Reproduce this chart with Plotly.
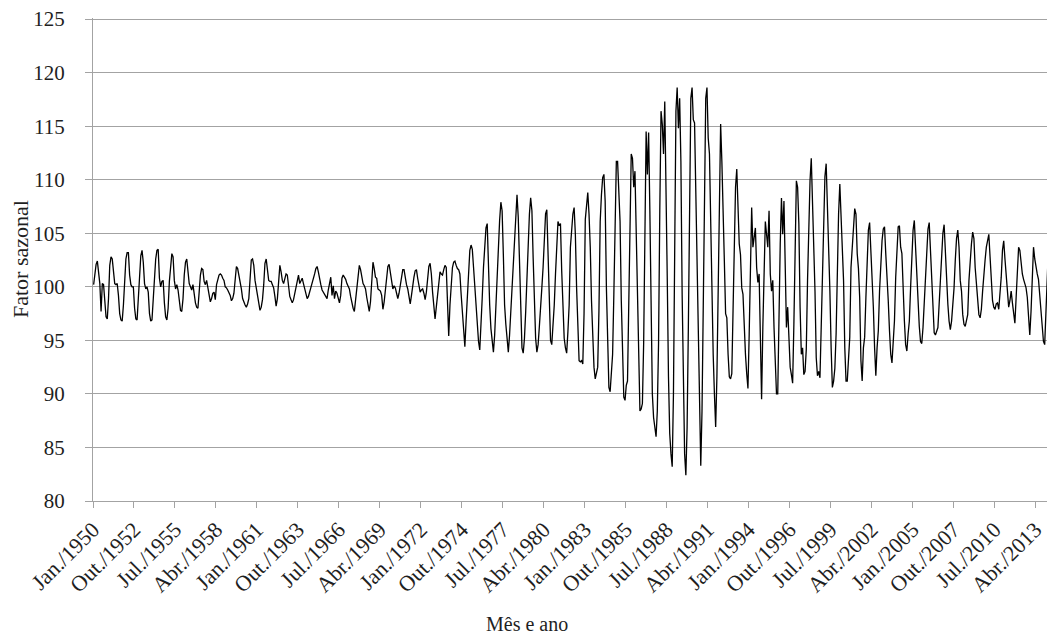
import plotly.graph_objects as go

# Fator sazonal mensal, jan/1950 a jun/2014
fator_1950s = [
    100.2, 101.5, 102.1, 102.4, 101.1, 100.3, 97.7, 100.3, 100.2, 98.3, 97.2, 97.0,
    98.9, 102.0, 102.8, 102.6, 101.4, 100.3, 100.2, 100.3, 99.2, 97.5, 96.9, 96.8,
    98.3, 100.5, 102.6, 103.2, 103.2, 101.1, 100.2, 100.0, 100.0, 98.0, 97.0, 96.9,
    98.9, 101.4, 102.9, 103.4, 102.3, 100.3, 99.8, 100.0, 99.5, 97.5, 96.8, 96.9,
    98.9, 101.1, 102.6, 103.4, 103.5, 100.8, 100.0, 100.5, 100.6, 98.5, 97.2, 96.9,
    98.0, 100.5, 102.3, 103.1, 102.8, 100.6, 99.8, 100.2, 99.7, 98.9, 97.8, 97.7,
    98.9, 101.1, 102.3, 102.6, 101.7, 100.3, 100.0, 99.7, 100.2, 99.2, 98.5, 98.1,
    98.0, 99.5, 101.1, 101.7, 101.6, 100.5, 100.2, 100.6, 99.8, 99.1, 98.6, 98.9,
    99.4, 99.5, 98.8, 100.2, 100.8, 101.1, 101.2, 101.1, 100.8, 100.6, 100.0, 99.9,
    99.7, 99.5, 99.2, 98.7, 98.9, 99.4, 100.8, 101.9, 101.7, 101.1, 100.5, 99.8,
]
fator_1960s = [
    98.9, 98.5, 98.3, 98.1, 98.4, 98.9, 100.8, 102.5, 102.6, 102.0, 100.6, 99.8,
    99.4, 98.5, 97.8, 98.1, 98.8, 100.2, 102.2, 102.6, 101.4, 100.6, 100.5, 100.5,
    100.2, 99.9, 99.1, 98.2, 98.9, 100.8, 102.0, 101.4, 100.6, 100.3, 100.8, 101.2,
    101.1, 100.0, 99.1, 98.8, 98.5, 98.8, 99.4, 100.2, 100.8, 101.1, 100.3, 100.5,
    100.8, 100.3, 99.9, 99.4, 98.9, 99.1, 99.5, 99.8, 100.3, 100.8, 101.2, 101.7,
    101.9, 101.4, 100.6, 100.2, 99.7, 99.5, 99.4, 99.2, 98.9, 99.7, 100.2, 100.9,
    99.2, 100.1, 98.9, 99.6, 99.4, 98.9, 98.5, 99.2, 100.8, 101.1, 100.9, 100.7,
    100.3, 100.1, 99.8, 99.1, 98.5, 98.0, 97.7, 98.8, 99.7, 101.4, 102.0, 101.6,
    100.9, 100.3, 100.1, 99.8, 99.0, 98.1, 97.7, 98.6, 100.8, 102.3, 101.7, 100.9,
    100.8, 99.8, 99.7, 99.6, 99.2, 97.9, 98.6, 99.8, 101.1, 101.9, 102.1, 101.4,
]
fator_1970s = [
    100.5, 99.8, 100.1, 99.9, 99.4, 98.9, 99.4, 100.2, 101.1, 101.6, 101.6, 100.8,
    100.2, 99.8, 98.9, 98.4, 99.2, 100.2, 100.9, 101.5, 101.6, 100.8, 100.2, 99.5,
    99.7, 99.8, 99.4, 98.8, 99.5, 100.8, 101.9, 102.2, 101.2, 99.5, 98.0, 97.0,
    98.1, 99.2, 100.8, 101.4, 101.2, 101.1, 101.6, 102.0, 101.8, 98.6, 95.4, 98.3,
    100.3, 101.8, 102.3, 102.4, 102.0, 101.7, 101.6, 101.2, 99.3, 97.7, 95.8, 94.4,
    96.8, 99.0, 101.5, 103.4, 103.9, 103.5, 101.8, 99.9, 98.3, 96.1, 94.9, 94.1,
    96.1, 99.0, 101.8, 104.0, 105.5, 105.9, 101.5, 98.3, 96.1, 94.6, 93.9, 95.5,
    98.3, 101.5, 103.7, 106.2, 107.9, 107.1, 103.0, 98.3, 96.5, 94.9, 93.9, 95.5,
    97.7, 99.9, 101.8, 104.6, 107.4, 108.6, 106.5, 102.7, 96.8, 94.3, 93.8, 95.2,
    97.7, 100.8, 104.0, 106.8, 108.3, 107.1, 102.7, 97.7, 95.2, 93.9, 94.6, 96.3,
]
fator_1980s = [
    97.7, 99.9, 101.8, 104.6, 106.8, 107.2, 103.0, 97.1, 95.0, 94.6, 96.1, 98.3,
    101.2, 104.3, 106.1, 105.7, 105.9, 101.5, 97.7, 95.2, 94.3, 93.8, 95.8, 98.3,
    103.7, 105.5, 106.8, 107.4, 104.9, 99.9, 95.6, 93.1, 93.0, 93.1, 92.8, 97.5,
    106.3, 108.0, 108.8, 106.8, 103.7, 98.7, 94.7, 92.5, 91.4, 92.0, 92.5, 97.8,
    106.1, 108.6, 110.2, 110.5, 108.0, 99.9, 93.7, 90.6, 90.2, 91.7, 93.7, 99.3,
    108.0, 111.7, 111.7, 108.6, 106.1, 98.7, 93.1, 89.7, 89.4, 90.8, 91.2, 98.7,
    108.0, 112.4, 112.0, 109.3, 110.8, 104.9, 97.8, 91.6, 88.4, 88.6, 89.1, 94.7,
    106.1, 114.5, 110.5, 114.4, 107.1, 97.8, 90.0, 87.8, 86.9, 86.0, 88.4, 94.7,
    107.1, 116.4, 115.2, 112.4, 117.3, 110.2, 100.9, 91.6, 86.3, 84.4, 83.2, 90.0,
    104.0, 116.4, 118.6, 114.8, 117.6, 111.7, 99.3, 90.0, 84.4, 82.4, 86.9, 96.2,
]
fator_1990s = [
    105.5, 117.6, 118.6, 115.6, 115.3, 108.6, 103.7, 93.1, 86.9, 83.3, 88.4, 97.8,
    110.2, 117.6, 118.6, 113.9, 112.4, 105.5, 98.7, 93.7, 90.0, 86.9, 91.6, 99.3,
    108.6, 115.2, 111.7, 108.0, 102.4, 97.5, 97.1, 93.7, 91.6, 91.4, 91.9, 97.8,
    104.0, 109.3, 111.0, 106.8, 104.0, 103.0, 99.9, 99.3, 95.6, 93.7, 91.9, 90.5,
    95.6, 102.4, 107.4, 103.7, 104.6, 105.5, 101.8, 100.4, 101.2, 94.7, 89.5, 96.2,
    102.4, 106.1, 104.9, 103.7, 107.1, 101.2, 99.6, 100.6, 96.2, 92.5, 90.0, 90.0,
    97.8, 104.0, 108.3, 104.9, 108.0, 101.8, 96.2, 98.1, 94.3, 92.5, 91.8, 91.0,
    96.5, 104.3, 109.9, 109.3, 105.9, 98.1, 93.7, 94.3, 91.8, 92.1, 94.2, 100.6,
    105.9, 109.9, 112.0, 107.8, 106.0, 99.6, 93.4, 91.7, 92.1, 91.5, 96.2, 101.8,
    106.8, 110.3, 111.5, 107.4, 105.3, 99.6, 94.3, 90.6, 91.2, 92.4, 95.6, 101.8,
]
fator_2000s = [
    106.8, 109.6, 105.9, 103.1, 100.6, 94.3, 91.2, 91.2, 93.4, 95.3, 101.8, 104.0,
    105.9, 107.3, 106.8, 103.1, 101.7, 99.0, 93.1, 91.2, 94.3, 95.3, 99.0, 103.1,
    105.3, 106.0, 103.4, 101.5, 98.1, 94.3, 91.7, 94.3, 95.9, 99.6, 102.4, 104.3,
    105.4, 105.6, 103.1, 101.2, 98.7, 95.9, 93.7, 92.9, 94.9, 96.8, 100.9, 103.7,
    105.6, 105.7, 103.7, 103.1, 99.3, 96.8, 94.6, 94.0, 95.6, 96.8, 99.9, 103.1,
    105.3, 106.2, 103.7, 101.2, 98.4, 96.3, 94.9, 94.7, 96.2, 98.7, 100.9, 103.7,
    105.4, 106.0, 103.1, 100.9, 98.1, 95.7, 95.5, 95.8, 96.2, 98.4, 100.6, 103.1,
    105.0, 105.8, 103.1, 100.7, 98.4, 96.8, 96.0, 96.8, 98.1, 99.9, 102.5, 104.5,
    105.3, 103.7, 100.6, 99.6, 97.4, 96.5, 96.3, 96.8, 97.4, 100.6, 102.5, 104.0,
    105.1, 104.5, 101.8, 100.1, 98.4, 97.4, 97.1, 97.9, 99.6, 101.5, 102.5, 103.7,
]
fator_2010s = [
    104.5, 104.9, 102.8, 100.7, 98.7, 98.1, 97.9, 98.4, 98.5, 97.9, 99.3, 100.9,
    103.4, 104.3, 102.6, 100.9, 99.8, 98.1, 98.7, 99.6, 98.5, 97.4, 96.6, 99.0,
    101.8, 103.7, 103.4, 102.0, 101.2, 100.7, 100.3, 99.9, 99.0, 97.4, 95.5, 97.7,
    101.8, 103.7, 102.6, 101.7, 101.2, 100.7, 99.0, 97.7, 96.0, 94.9, 94.6, 98.1,
    101.8, 103.6, 103.1, 102.9, 101.2, 98.1,
]

rotulos_x = [
    "Jan./1950", "Out./1952", "Jul./1955", "Abr./1958", "Jan./1961", "Out./1963",
    "Jul./1966", "Abr./1969", "Jan./1972", "Out./1974", "Jul./1977", "Abr./1980",
    "Jan./1983", "Out./1985", "Jul./1988", "Abr./1991", "Jan./1994", "Out./1996",
    "Jul./1999", "Abr./2002", "Jan./2005", "Out./2007", "Jul./2010", "Abr./2013",
]
intervalo_rotulos = 33  # meses entre rótulos
ticks_y = [80, 85, 90, 95, 100, 105, 110, 115, 120, 125]

valores = (fator_1950s + fator_1960s + fator_1970s + fator_1980s
           + fator_1990s + fator_2000s + fator_2010s)
meses = list(range(len(valores)))

cinza = "#a3a3a3"
texto = "#1f1f1f"
fonte = "Liberation Serif"

# the page puts the figure 8 px in from the top-left corner
fig_w, fig_h = 1047, 628
plot_l, plot_r, plot_t, plot_b = 85, 1046, 10, 493

fig = go.Figure()
fig.add_trace(go.Scatter(
    x=meses, y=valores, mode="lines",
    line=dict(color="#000000", width=1.3),
    hoverinfo="skip", showlegend=False,
))

fig.update_layout(
    width=fig_w, height=fig_h,
    margin=dict(l=plot_l, r=fig_w - plot_r, t=plot_t, b=fig_h - plot_b, autoexpand=False),
    plot_bgcolor="white", paper_bgcolor="white",
    font=dict(family=fonte, color=texto),
    showlegend=False,
)

fig.update_xaxes(
    range=[-0.5, len(valores) - 0.5],
    tickmode="array",
    tickvals=[k * intervalo_rotulos - 0.5 for k in range(len(rotulos_x))],
    ticktext=rotulos_x,
    tickangle=-45,
    ticks="outside", ticklen=6, tickcolor=cinza, tickwidth=1,
    showline=True, linecolor=cinza, linewidth=1,
    showgrid=False, zeroline=False,
    tickfont=dict(family=fonte, size=22, color=texto),
)
fig.update_yaxes(
    range=[ticks_y[0], ticks_y[-1] + 0.1],
    tickmode="array", tickvals=ticks_y,
    ticktext=[str(v) for v in ticks_y],
    ticks="outside", ticklen=7, tickcolor=cinza, tickwidth=1,
    showline=True, linecolor=cinza, linewidth=1,
    showgrid=True, gridcolor=cinza, gridwidth=1,
    zeroline=False,
    tickfont=dict(family=fonte, size=21, color=texto),
    ticklabelstandoff=16,
    ticklabeloverflow="allow",
)

pw = plot_r - plot_l
ph = plot_b - plot_t
fig.add_annotation(
    text="Mês e ano", xref="paper", yref="paper",
    x=(527 - 8 - plot_l) / pw, y=(plot_b - (624 - 8)) / ph,
    xanchor="center", yanchor="middle", showarrow=False,
    font=dict(family=fonte, size=20, color=texto),
)
fig.add_annotation(
    text="Fator sazonal", xref="paper", yref="paper",
    x=(20 - 8 - plot_l) / pw, y=(plot_b - (259 - 8)) / ph,
    xanchor="center", yanchor="middle", showarrow=False, textangle=-90,
    font=dict(family=fonte, size=22, color=texto),
)

fig.write_html("out.html")
